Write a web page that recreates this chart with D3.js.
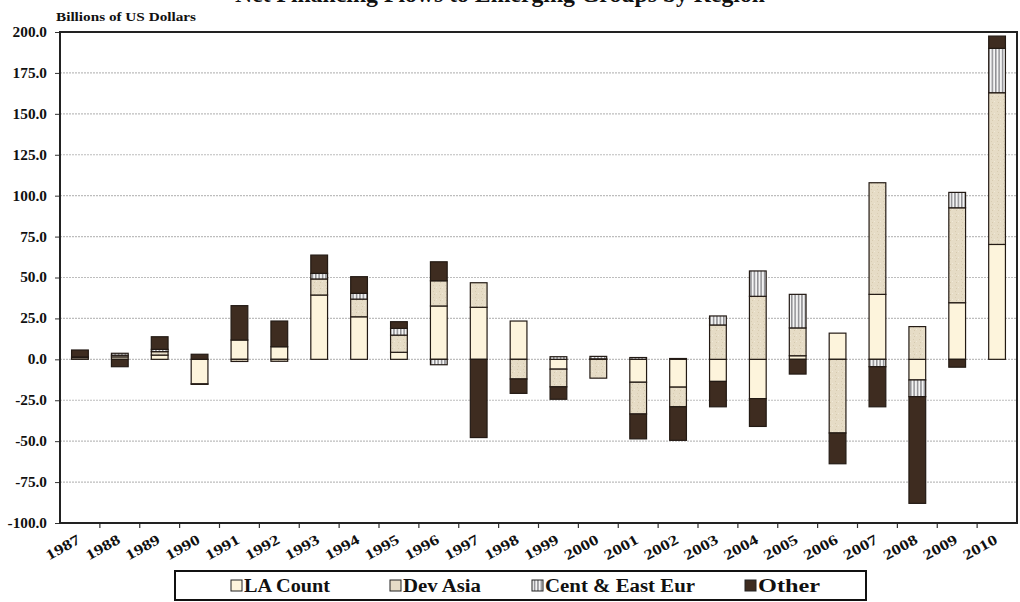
<!DOCTYPE html>
<html>
<head>
<meta charset="utf-8">
<script src="https://cdn.jsdelivr.net/npm/d3@7"></script>
<style>
  html, body { margin: 0; padding: 0; background: #fff; }
  svg { display: block; }
  text { font-family: "Liberation Serif", "Times New Roman", serif; font-weight: bold; fill: #111; }
</style>
</head>
<body>
<svg id="chart" width="1020" height="602"></svg>
<script>
// ---- Data (billions of US dollars) ----
const years = ["1987","1988","1989","1990","1991","1992","1993","1994","1995","1996","1997","1998",
               "1999","2000","2001","2002","2003","2004","2005","2006","2007","2008","2009","2010"];
const laCount  = [1.0, 1.5, 2.6, -15.0, 11.8, 7.7, 39.3, 26.0, 4.3, 32.6, 31.8, 23.4,
                  -6.0, 0.3, -14.0, -17.0, -13.5, -24.0, 2.2, 16.0, 39.7, -12.6, 34.6, 70.2];
const devAsia  = [0.5, 1.0, 2.1, -0.3, -1.3, -1.2, 9.8, 10.8, 10.5, 15.4, 15.0, -12.0,
                  -10.8, -11.5, -19.4, -12.0, 21.0, 38.5, 17.0, -45.0, 68.2, 20.0, 58.0, 92.7];
const centEast = [0, 1.2, 1.4, 0, 0, 0, 3.4, 3.5, 4.1, -3.3, 0, 0,
                  1.6, 1.5, 1.1, 0.5, 5.5, 15.5, 20.5, 0, -4.5, -10.2, 9.4, 27.1];
const other    = [4.2, -4.5, 7.7, 3.1, 21.0, 15.7, 11.2, 10.2, 4.1, 11.6, -47.8, -8.8,
                  -7.6, 0, -15.2, -20.5, -15.5, -17.0, -9.0, -18.8, -24.5, -65.2, -4.8, 7.5];
const seriesNames = ["LA Count", "Dev Asia", "Cent & East Eur", "Other"];
const yTicks = [200, 175, 150, 125, 100, 75, 50, 25, 0, -25, -50, -75, -100];
const titleText = "Net Financing Flows to Emerging Groups by Region";
const unitText = "Billions of US Dollars";

const rows = years.map((y, i) => ({
  year: y,
  "LA Count": laCount[i],
  "Dev Asia": devAsia[i],
  "Cent & East Eur": centEast[i],
  "Other": other[i]
}));

// ---- Layout ----
const svg = d3.select("#chart");
const margin = { left: 60, right: 3, top: 32, bottom: 79 };
const W = 1020, H = 602;
const plotW = W - margin.left - margin.right;
const plotH = H - margin.top - margin.bottom;

const defs = svg.append("defs");
const stripe = defs.append("pattern")
  .attr("id", "stripes").attr("patternUnits", "userSpaceOnUse")
  .attr("width", 3.4).attr("height", 10);
stripe.append("rect").attr("width", 3.4).attr("height", 10).attr("fill", "#f4f4f4");
stripe.append("rect").attr("width", 1.5).attr("height", 10).attr("fill", "#8f8f93");

const speck = defs.append("pattern")
  .attr("id", "speck").attr("patternUnits", "userSpaceOnUse")
  .attr("width", 6).attr("height", 6);
speck.append("rect").attr("width", 6).attr("height", 6).attr("fill", "#e6dcc6");
speck.append("rect").attr("x", 1).attr("y", 1).attr("width", 1).attr("height", 1).attr("fill", "#d8ccb2");
speck.append("rect").attr("x", 4).attr("y", 3).attr("width", 1).attr("height", 1).attr("fill", "#f0e9d8");
speck.append("rect").attr("x", 2).attr("y", 4).attr("width", 1).attr("height", 1).attr("fill", "#d5c9ae");

const fills = {
  "LA Count": "#fdf4dc",
  "Dev Asia": "url(#speck)",
  "Cent & East Eur": "url(#stripes)",
  "Other": "#3e2c20"
};
const legendFills = {
  "LA Count": "#fdf4dc",
  "Dev Asia": "#e6dcc6",
  "Cent & East Eur": "url(#stripes)",
  "Other": "#3e2c20"
};

const g = svg.append("g").attr("transform", `translate(${margin.left},${margin.top})`);

const x = d3.scaleBand().domain(years).range([0, plotW]).padding(0);
const y = d3.scaleLinear().domain([-100, 200]).range([plotH, 0]);

// title (cut off at top, as in the reference)
svg.append("text").attr("x", 500).attr("y", 2).attr("text-anchor", "middle")
  .style("font-size", "23px").attr("textLength", 530).attr("lengthAdjust", "spacingAndGlyphs")
  .text(titleText);

// unit label
svg.append("text").attr("x", 56).attr("y", 21).style("font-size", "13px")
  .attr("textLength", 140).attr("lengthAdjust", "spacingAndGlyphs").text(unitText);

// gridlines
g.append("g").selectAll("line").data(yTicks.filter(t => t !== 200 && t !== -100)).join("line")
  .attr("x1", 0).attr("x2", plotW)
  .attr("y1", d => y(d)).attr("y2", d => y(d))
  .attr("stroke", "#bdbdbd").attr("stroke-width", 1.2).attr("stroke-dasharray", "2,1");

// stacked bars
const stack = d3.stack().keys(seriesNames).offset(d3.stackOffsetDiverging).order(d3.stackOrderNone);
const stacked = stack(rows);
const barW = x.bandwidth() * 0.42;

g.append("g").selectAll("g").data(stacked).join("g")
  .attr("fill", d => fills[d.key])
  .selectAll("rect").data(d => d.filter(s => Math.abs(s[1] - s[0]) > 0.001)).join("rect")
  .attr("x", d => x(d.data.year) + (x.bandwidth() - barW) / 2)
  .attr("y", d => y(Math.max(d[0], d[1])))
  .attr("width", barW)
  .attr("height", d => Math.abs(y(d[0]) - y(d[1])))
  .attr("stroke", "#231a14").attr("stroke-width", 1.2);

// y axis
const fmt = d3.format(".1f");
const yAxis = d3.axisLeft(y).tickValues(yTicks).tickFormat(d => fmt(d).replace("\u2212", "-")).tickSize(5).tickPadding(8);
const ya = g.append("g").call(yAxis);
ya.select(".domain").remove();
ya.selectAll("line").attr("stroke", "#333");
ya.selectAll("text").style("font-size", "14px").style("font-family", "Liberation Serif, serif")
  .style("font-weight", "bold").attr("fill", "#111")
  .attr("textLength", d => {
    const s = fmt(Math.abs(d));
    return (s.length - 1) * 7.6 + 4 + (d < 0 ? 5 : 0);
  })
  .attr("lengthAdjust", "spacingAndGlyphs");

// x axis ticks at band boundaries
const xa = g.append("g").attr("transform", `translate(0,${plotH})`);
xa.selectAll("line").data(years.slice(1)).join("line")
  .attr("x1", d => x(d)).attr("x2", d => x(d)).attr("y1", 0).attr("y2", 5)
  .attr("stroke", "#333").attr("stroke-width", 1.2);
xa.selectAll("text").data(years).join("text")
  .attr("transform", d => `translate(${x(d) + x.bandwidth() / 2 - 1},${15}) rotate(-29)`)
  .attr("text-anchor", "end")
  .attr("dy", "0.35em")
  .style("font-size", "14.5px")
  .attr("textLength", 37).attr("lengthAdjust", "spacingAndGlyphs")
  .text(d => d);

// frame
g.append("rect").attr("x", 0).attr("y", 0).attr("width", plotW).attr("height", plotH)
  .attr("fill", "none").attr("stroke", "#222").attr("stroke-width", 2);

// legend
const lg = svg.append("g");
lg.append("rect").attr("x", 175).attr("y", 571).attr("width", 691).attr("height", 29)
  .attr("fill", "#fff").attr("stroke", "#111").attr("stroke-width", 2);
const legX = [231, 390, 532, 745];
const legLen = [86, 78, 150, 62];
seriesNames.forEach((s, i) => {
  lg.append("rect").attr("x", legX[i]).attr("y", 580).attr("width", 11).attr("height", 11)
    .attr("fill", legendFills[s]).attr("stroke", "#222").attr("stroke-width", 1);
  lg.append("text").attr("x", legX[i] + 13).attr("y", 592).style("font-size", "18px")
    .attr("textLength", legLen[i]).attr("lengthAdjust", "spacingAndGlyphs").text(s);
});
</script>
</body>
</html>
